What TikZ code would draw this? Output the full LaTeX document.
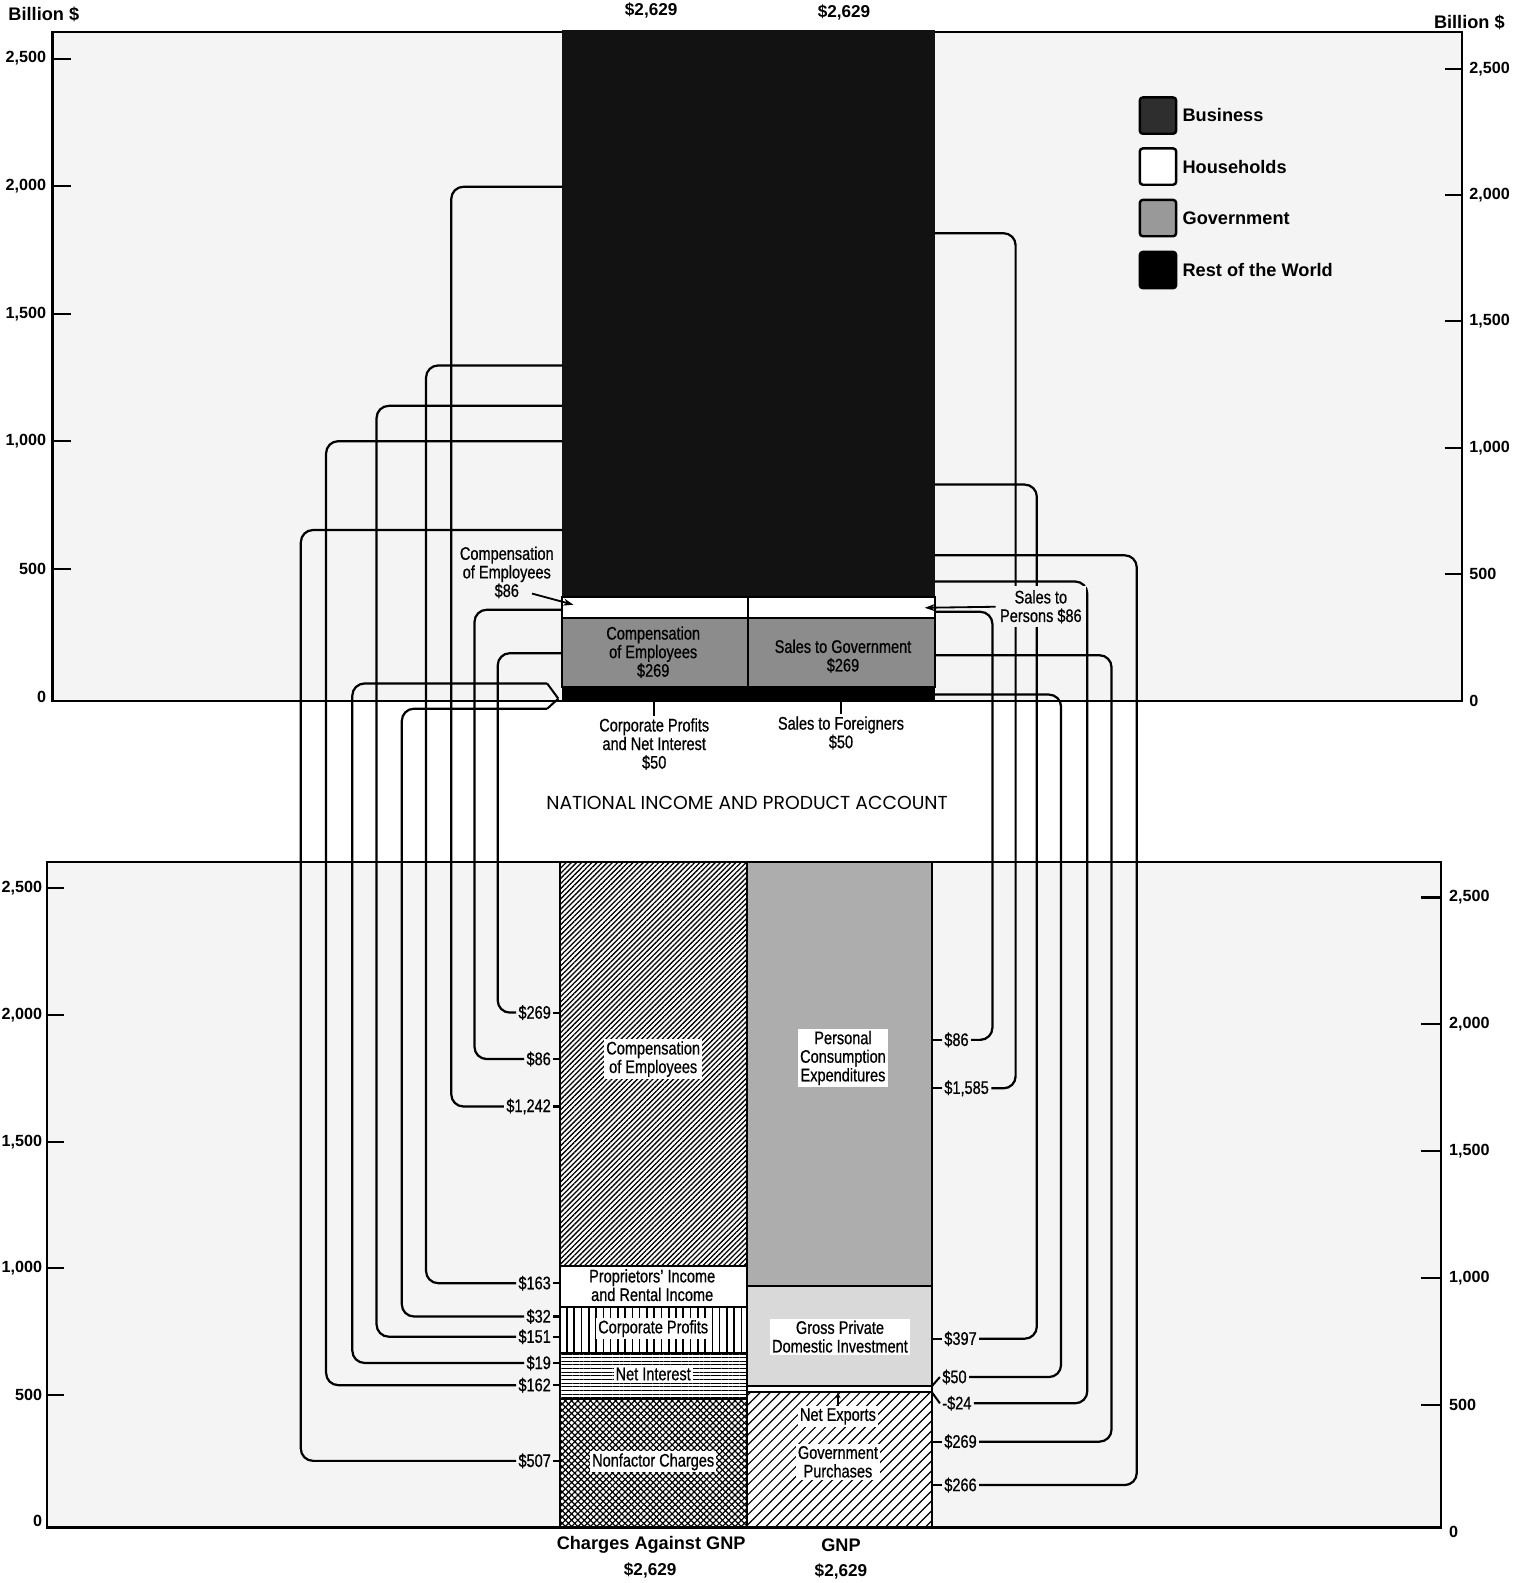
\documentclass[tikz,border=0pt]{standalone}
\usepackage{fontspec}
\setmainfont{Liberation Sans}
\newfontfamily\condf[FakeStretch=0.8,FakeBold=0.7]{Liberation Sans}
\newfontfamily\geof{Poppins}
\usetikzlibrary{patterns.meta,arrows.meta}
\definecolor{panelbg}{gray}{0.955}
\tikzset{
  frame/.style={line width=1pt},
  conn/.style={line width=1.1pt, rounded corners=6pt},
  lead/.style={line width=1pt},
  lab/.style={font=\condf\fontsize{9}{9.2}\selectfont, inner sep=1pt, align=center},
  axl/.style={font=\bfseries\fontsize{8}{9}\selectfont, inner sep=0pt},
  tot/.style={font=\bfseries\fontsize{8.5}{10}\selectfont, inner sep=0pt},
  legbox/.style={draw=black, line width=1.2pt, minimum size=18pt, inner sep=0pt, rounded corners=1.5pt},
  legtxt/.style={font=\bfseries\fontsize{9}{10}\selectfont, anchor=west, inner sep=0pt},
  arr/.style={line width=0.9pt, -{Stealth[length=5pt,width=3.5pt]}},
  barline/.style={line width=1pt},
}
\begin{document}
\begin{tikzpicture}[x=0.5pt,y=-0.5pt]
\useasboundingbox (0,0) rectangle (1504,1568);
\fill[white] (0,0) rectangle (1504,1568);
% panels
\fill[panelbg] (52,32) rectangle (1448,694);
\fill[panelbg] (47,854) rectangle (1427,1513);
\draw[frame] (52,32) rectangle (1448,694);
\draw[frame] (47,854) rectangle (1427,1513);

% axes
\foreach \v in {500,1000,...,2500}{
  \pgfmathsetmacro\ya{690-0.2528*\v}
  \pgfmathsetmacro\yb{694-0.2504*\v}
  \pgfmathsetmacro\yc{1507-0.2508*\v}
  \pgfmathsetmacro\yd{1517-0.2512*\v}
  \draw[frame] (52,\ya) -- (70,\ya);
  \draw[frame] (1431,\yb) -- (1448,\yb);
  \draw[frame] (47,\yc) -- (63,\yc);
  \draw[frame] (1408,\yd) -- (1427,\yd);
}
\foreach \v/\t in {0/0,500/500,1000/{1,000},1500/{1,500},2000/{2,000},2500/{2,500}}{
  \pgfmathsetmacro\ya{690-0.2528*\v}
  \pgfmathsetmacro\yb{694-0.2504*\v}
  \pgfmathsetmacro\yc{1507-0.2508*\v}
  \pgfmathsetmacro\yd{1517-0.2512*\v}
  \node[axl,anchor=east] (atl\v) at (46,\ya) {\t};
  \node[axl,anchor=west] (atr\v) at (1455,\yb) {\t};
  \node[axl,anchor=east] (abl\v) at (42,\yc) {\t};
  \node[axl,anchor=west] (abr\v) at (1435,\yd) {\t};
}
\node[legtxt] (bil1) at (8,14) {Billion \$};
\node[legtxt] (bil2) at (1420,22) {Billion \$};

% top bars
\fill[black!93] (557,30) rectangle (926,591);
\filldraw[fill=white,draw=black,barline] (557,591) rectangle (926,612.6);
\filldraw[fill=black!45,draw=black,barline] (557,612.6) rectangle (926,680.4);
\fill[black] (557,680.4) rectangle (926,694);
\draw[barline] (741,591) -- (741,680.4);
\node[tot] (t1) at (645,10) {\$2,629};
\node[tot] (t2) at (836,12) {\$2,629};
\node[lab] (gce) at (647,646) {Compensation\\of Employees\\\$269};
\node[lab] (gsg) at (835,650) {Sales to Government\\\$269};

% labels under top bars
\node[lab] (cpni) at (648,737) {Corporate Profits\\and Net Interest\\\$50};
\node[lab] (sfor) at (833,726) {Sales to Foreigners\\\$50};
\draw[lead] (648,694) -- (cpni.north);
\draw[lead] (833,694) -- (sfor.north);
\node[font=\geof\fontsize{9.3}{10}\selectfont] (nipa) at (740,795) {NATIONAL INCOME AND PRODUCT ACCOUNT};

% legend
\node[legbox,fill=black!82] (lgB) at (1147,114.5) {};
\node[legbox,fill=white] (lgH) at (1147,165) {};
\node[legbox,fill=black!40] (lgG) at (1147,216) {};
\node[legbox,fill=black] (lgR) at (1147,267.5) {};
\node[legtxt] (ltB) at (1171,114) {Business};
\node[legtxt] (ltH) at (1171,165) {Households};
\node[legtxt] (ltG) at (1171,216) {Government};
\node[legtxt] (ltR) at (1171,267) {Rest of the World};

% bottom bars
\fill[white] (555,853.4) rectangle (923,1513);
\fill[pattern={Lines[angle=45,distance=1.8pt,line width=0.65pt]}] (555,853.4) rectangle (740,1253.8);
\fill[pattern={Lines[angle=90,distance=3.6pt,line width=0.8pt]}] (555,1294.6) rectangle (740,1340.5);
\fill[pattern={Lines[angle=0,distance=1.8pt,line width=0.5pt]}] (555,1340.5) rectangle (740,1385.9);
\fill[pattern={Hatch[angle=45,distance=2.2pt,line width=0.6pt]}] (555,1385.9) rectangle (740,1513);
\fill[black!32] (740,853.4) rectangle (923,1273.4);
\fill[black!15] (740,1273.4) rectangle (923,1372.9);
\fill[pattern={Lines[angle=45,distance=3.5pt,line width=0.6pt]}] (740,1378.9) rectangle (923,1513);
\foreach \ya/\yb in {853.4/1253.8,1253.8/1294.6,1294.6/1340.5,1340.5/1385.9,1385.9/1513}{
  \draw[barline] (555,\ya) rectangle (740,\yb);
}
\foreach \ya/\yb in {853.4/1273.4,1273.4/1372.9,1372.9/1378.9,1378.9/1513}{
  \draw[barline] (740,\ya) rectangle (923,\yb);
}
\node[lab,fill=white] (bCE) at (647,1049) {Compensation\\of Employees};
\node[lab,fill=white] (bPCE) at (835,1048) {Personal\\Consumption\\Expenditures};
\node[lab] (bPI) at (646,1273) {Proprietors’ Income\\and Rental Income};
\node[lab,fill=white] (bCP) at (647,1316) {Corporate Profits};
\node[lab,fill=white] (bNI) at (647,1361) {Net Interest};
\node[lab,fill=white] (bNF) at (647,1448) {Nonfactor Charges};
\node[lab,fill=white] (bGPDI) at (832,1324) {Gross Private\\Domestic Investment};
\node[lab,fill=white] (bNX) at (830,1403) {Net Exports};
\node[lab,fill=white] (bGP) at (830,1448) {Government\\Purchases};
\coordinate (nxband) at (830,1379);
\draw[line width=0.6pt,-{Stealth[length=3pt,width=2.5pt]}] (bNX.north) -- (nxband);

\node[tot,font=\bfseries\fontsize{9}{10}\selectfont] (cag) at (645,1530) {Charges Against GNP};
\node[tot] (cagv) at (644,1556) {\$2,629};
\node[tot,font=\bfseries\fontsize{9}{10}\selectfont] (gnp) at (833,1531) {GNP};
\node[tot] (gnpv) at (833,1557) {\$2,629};

% left connectors
\foreach \n/\ys/\xv/\yb/\t in {1242/185/447/1096/{\$1,242},163/362/422/1271/{\$163},151/402/373/1324/{\$151},162/437/323/1372/{\$162},507/525/298/1447/{\$507},86/604/470/1049/{\$86},269/647/493/1003/{\$269}}{
  \node[lab,anchor=east] (L\n) at (548,\yb) {\t};
  \draw[lead] (L\n.east) -- (555,\yb);
  \draw[conn] (557,\ys) -- (\xv,\ys) -- (\xv,\yb) -- (L\n.west);
}
% rest of world chevron
\coordinate (chev) at (553,692);
\node[lab,anchor=east] (L19) at (548,1350) {\$19};
\draw[lead] (L19.east) -- (555,1350);
\node[lab,anchor=east] (L32) at (548,1304) {\$32};
\draw[lead] (L32.east) -- (555,1304);
\draw[lead] (chev) -- (542,677);
\draw[lead] (chev) -- (542,702);
\draw[conn] (542,677) -- (349,677) -- (349,1350) -- (L19.west);
\draw[conn] (542,702) -- (398,702) -- (398,1304) -- (L32.west);

% right connectors
\foreach \n/\ys/\xv/\yb/\t in {86/606/983/1030/{\$86},1585/231/1006/1078/{\$1,585},397/480/1027/1326/{\$397},269/649/1101/1428/{\$269},266/550/1126/1471/{\$266}}{
  \node[lab,anchor=west] (R\n) at (933,\yb) {\t};
  \draw[lead] (923,\yb) -- (R\n.west);
  \draw[conn] (926,\ys) -- (\xv,\ys) -- (\xv,\yb) -- (R\n.east);
}
\node[lab,anchor=west] (R50) at (931,1364) {\$50};
\draw[lead] (923,1373) -- (R50.west);
\draw[conn] (926,688) -- (1051,688) -- (1051,1364) -- (R50.east);
\node[lab,anchor=west] (R24) at (931,1390) {-\$24};
\draw[lead] (923,1379) -- (R24.west);
\draw[conn] (926,576) -- (1077,576) -- (1077,1390) -- (R24.east);

% top annotations with arrows
\node[lab] (ce86) at (502,567) {Compensation\\of Employees\\\$86};
\coordinate (hhL) at (568,599);
\draw[arr] ([xshift=12.5pt,yshift=3.5pt]ce86.south) -- (hhL);
\node[lab,fill=panelbg,inner sep=2pt] (sp86) at (1031,601) {Sales to\\Persons \$86};
\coordinate (hhR) at (916,602);
\draw[arr] (sp86.west) -- (hhR);
\end{tikzpicture}
\end{document}
